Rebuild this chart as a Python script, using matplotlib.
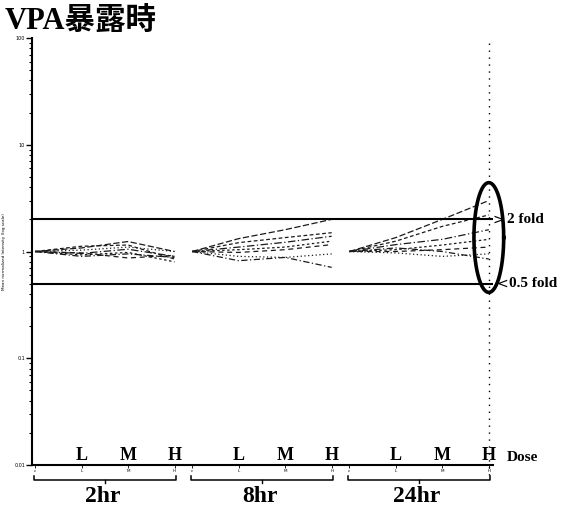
import numpy as np
import matplotlib
matplotlib.use("Agg")
import matplotlib.pyplot as plt
import matplotlib.transforms as mtransforms

# ---------------- data ----------------
time_groups = ["2hr", "8hr", "24hr"]
dose_levels = ["c", "L", "M", "H"]
dose_labels = ["L", "M", "H"]

# fold change (control normalised to 1) for each gene line: control, L, M, H
series_2hr = [
    [1, 1.08, 1.24, 1.00],
    [1, 1.12, 1.15, 0.85],
    [1, 0.96, 1.05, 0.90],
    [1, 0.93, 0.98, 0.80],
    [1, 0.97, 0.87, 0.92],
    [1, 1.03, 1.10, 1.00],
    [1, 0.90, 0.95, 0.88],
]
series_8hr = [
    [1, 1.32, 1.60, 2.00],
    [1, 1.21, 1.35, 1.50],
    [1, 1.10, 1.22, 1.39],
    [1, 1.04, 1.10, 1.25],
    [1, 0.98, 1.04, 1.16],
    [1, 0.90, 0.88, 0.95],
    [1, 0.82, 0.88, 0.71],
]
series_24hr = [
    [1, 1.35, 2.00, 3.00],
    [1, 1.25, 1.72, 2.20],
    [1, 1.16, 1.30, 1.60],
    [1, 1.04, 1.15, 1.30],
    [1, 1.00, 1.04, 1.10],
    [1, 0.97, 0.90, 0.95],
    [1, 1.08, 1.00, 0.85],
]
all_series = [series_2hr, series_8hr, series_24hr]

fold_up = 2.0
fold_down = 0.5
y_ticks = [0.01, 0.1, 1, 10, 100]
y_tick_labels = ["0.01", "0.1", "1", "10", "100"]

# ---------------- layout ----------------
group_step = 3.38
serif = ["Liberation Serif", "DejaVu Serif"]
title_family = ["Liberation Serif", "Noto Sans CJK JP"]

fig = plt.figure(figsize=(5.70, 5.08), dpi=100)
ax = fig.add_axes([32 / 570, 43 / 508, 461 / 570, 427 / 508])

dash_styles = [
    (0, (5, 2)),
    (0, (3, 2)),
    (0, (6, 2, 1, 2)),
    (0, (2, 2)),
    (0, (4, 3)),
    (0, (1, 2)),
    (0, (5, 2, 1, 2)),
]

xpos_all = []
for g, series in enumerate(all_series):
    xs = g * group_step + np.arange(len(dose_levels))
    xpos_all.append(xs)
    for i, vals in enumerate(series):
        ax.plot(xs, vals, color="#1a1a1a", lw=0.9,
                linestyle=dash_styles[i % len(dash_styles)])

ax.set_yscale("log")
ax.set_ylim(0.01, 100)
ax.set_xlim(-0.065, 9.85)

# fold-change reference lines
ax.axhline(fold_up, color="black", lw=1.5)
ax.axhline(fold_down, color="black", lw=1.5)

# dotted vertical line at last H
x_last = xpos_all[-1][-1]
ax.plot([x_last, x_last], [0.008, 100], color="black", lw=1.0,
        linestyle=(0, (1, 4)), clip_on=False)

# ellipse around 24hr-H (parametric in data coordinates)
t = np.linspace(0, 2 * np.pi, 300)
ex = x_last + 0.32 * np.cos(t)
ey = 10 ** (0.131 + 0.514 * np.sin(t))
ax.plot(ex, ey, color="black", lw=2.6, clip_on=False)

# chevrons and fold labels
ax.text(x_last + 0.2, fold_up, ">", fontsize=10, ha="center", va="center",
        family="DejaVu Sans")
ax.text(x_last + 0.3, fold_down, "<", fontsize=10, ha="center", va="center",
        family="DejaVu Sans")
ax.text(x_last + 0.4, fold_up, "2 fold", fontsize=11, fontweight="bold",
        family=serif, ha="left", va="center")
ax.text(x_last + 0.44, fold_down, "0.5 fold", fontsize=11, fontweight="bold",
        family=serif, ha="left", va="center")

# dose labels above axis
for xs in xpos_all:
    for x, lab in zip(xs[1:], dose_labels):
        ax.text(x, 0.0102, lab, fontsize=13, fontweight="bold", family=serif,
                ha="center", va="bottom")
ax.text(x_last + 0.38, 0.0102, "Dose", fontsize=11, fontweight="bold",
        family=serif, ha="left", va="bottom")

# brackets and time labels
trans = mtransforms.blended_transform_factory(ax.transData, ax.transAxes)
for xs, name in zip(xpos_all, time_groups):
    x0, x1 = xs[0] - 0.02, xs[-1] + 0.03
    xm = (x0 + x1) / 2
    ax.plot([x0, x0, x1, x1], [-0.025, -0.036, -0.036, -0.025],
            transform=trans, color="black", lw=1.1, clip_on=False)
    ax.plot([xm, xm], [-0.036, -0.043], transform=trans, color="black",
            lw=1.0, clip_on=False)
    ax.text(xm - 0.05, -0.0865, name, transform=trans, fontsize=17,
            fontweight="bold", family=serif, ha="center", va="baseline")

# axes styling
for s in ["top", "right"]:
    ax.spines[s].set_visible(False)
ax.spines["left"].set_linewidth(1.5)
ax.spines["bottom"].set_linewidth(1.5)

xt = np.concatenate(xpos_all)
ax.set_xticks(xt)
ax.set_xticklabels(dose_levels * len(time_groups), fontsize=3)
ax.tick_params(axis="x", length=2, width=0.6, pad=1)
ax.set_yticks(y_ticks)
ax.set_yticklabels(y_tick_labels, fontsize=3.5)
ax.tick_params(axis="y", which="major", length=4, width=1.0, pad=1)
ax.tick_params(axis="y", which="minor", length=2, width=0.8)
ax.set_ylabel("Mean normalized Intensity (log scale)", fontsize=3, labelpad=6)

fig.text(5 / 570, 1 - 30 / 508, "VPA暴露時", fontsize=22, fontweight="bold",
         family=title_family, ha="left", va="baseline")

fig.savefig("out.png", dpi=100)
